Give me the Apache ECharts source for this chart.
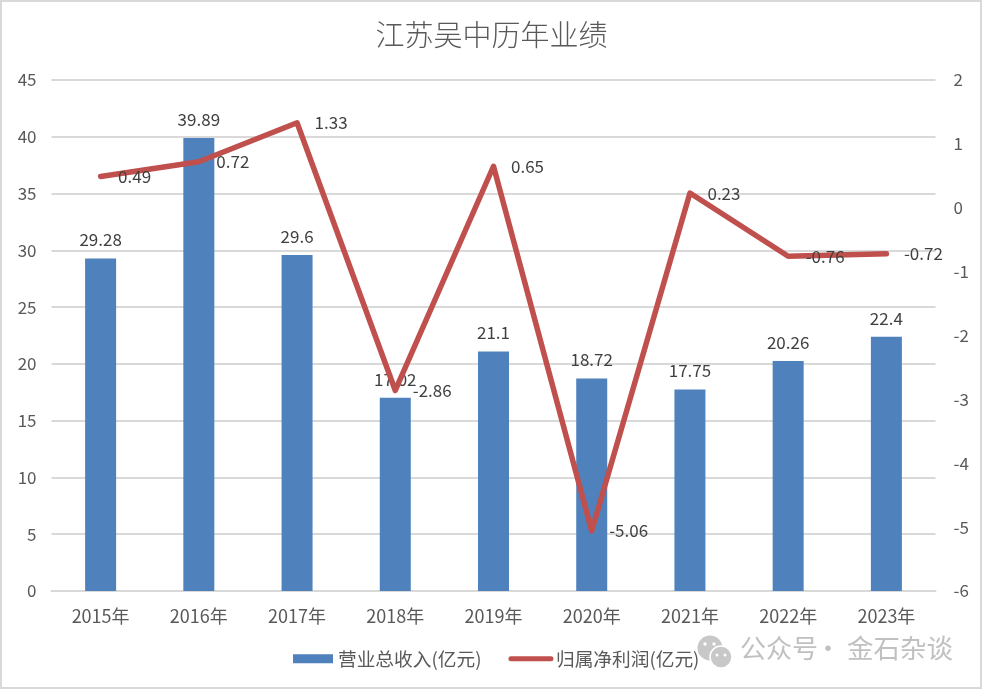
<!DOCTYPE html>
<html><head><meta charset="utf-8">
<style>html,body{margin:0;padding:0;background:#fff}#c{width:983px;height:690px}</style>
<script src="https://cdn.jsdelivr.net/npm/echarts@6/dist/echarts.min.js"></script></head>
<body><div id="c"></div>
<script>
const categories=['2015年','2016年','2017年','2018年','2019年','2020年','2021年','2022年','2023年'];
const revenue=[29.28,39.89,29.6,17.02,21.1,18.72,17.75,20.26,22.4];
const profit=[0.49,0.72,1.33,-2.86,0.65,-5.06,0.23,-0.76,-0.72];
const seriesNames=['营业总收入(亿元)','归属净利润(亿元)'];
const titleText='江苏吴中历年业绩';
const watermarkParts=['公众号','·','金石杂谈'];
const font='"Noto Sans CJK SC","Noto Sans",sans-serif';
const chart=echarts.init(document.getElementById('c'));
chart.setOption({
 animation:false,backgroundColor:'#fff',
 textStyle:{fontFamily:font},
 title:{text:titleText,left:'center',top:15,textStyle:{fontSize:29,fontWeight:300,color:'#595959',fontFamily:font}},
 grid:{left:51.5,right:47.5,top:80,bottom:99,containLabel:false},
 legend:{bottom:17,left:288,itemGap:27,itemWidth:40,itemHeight:9,textStyle:{fontSize:18.7,color:'#595959',fontFamily:font},
  data:[{name:seriesNames[0],icon:'rect'},
        {name:seriesNames[1],itemStyle:{color:'rgba(0,0,0,0)',borderWidth:0},lineStyle:{color:'#c0504d',width:5,cap:'round'}}]},
 xAxis:{type:'category',data:categories,axisTick:{show:false},axisLine:{lineStyle:{color:'#d9d9d9',width:2}},
  axisLabel:{fontSize:18,color:'#595959',margin:16,fontFamily:font}},
 yAxis:[
  {type:'value',min:0,max:45,interval:5,axisLine:{show:false},axisTick:{show:false},
   splitLine:{lineStyle:{color:'#d9d9d9',width:2}},axisLabel:{fontSize:17,color:'#595959',margin:15,fontFamily:font}},
  {type:'value',min:-6,max:2,interval:1,axisLine:{show:false},axisTick:{show:false},splitLine:{show:false},
   axisLabel:{fontSize:17,color:'#595959',margin:18,fontFamily:font}}
 ],
 series:[
  {name:seriesNames[0],type:'bar',data:revenue,barWidth:31,itemStyle:{color:'#4f81bd'},
   label:{show:true,position:'top',distance:10,fontSize:17,color:'#404040',fontFamily:font}},
  {name:seriesNames[1],type:'line',yAxisIndex:1,data:profit,symbol:'circle',symbolSize:1,showSymbol:true,showAllSymbol:true,
   lineStyle:{color:'#c0504d',width:5.5,cap:'round',join:'round'},itemStyle:{color:'#c0504d'},z:3,
   label:{show:true,position:'right',distance:17,fontSize:17,color:'#404040',fontFamily:font},
   labelLayout:{hideOverlap:false}}
 ],
 graphic:[
  {type:'rect',z:100,shape:{x:1,y:1,width:980,height:687},style:{fill:'none',stroke:'#d9d9d9',lineWidth:2},silent:true},
  {type:'circle',z:100,shape:{cx:710,cy:648,r:12.5},style:{fill:'#c8c8c8'}},
  {type:'circle',z:101,shape:{cx:721,cy:657,r:11},style:{fill:'#c8c8c8',stroke:'#fff',lineWidth:1.5}},
  {type:'circle',z:102,shape:{cx:705,cy:644,r:1.7},style:{fill:'#fff'}},
  {type:'circle',z:102,shape:{cx:714,cy:644,r:1.7},style:{fill:'#fff'}},
  {type:'circle',z:102,shape:{cx:717,cy:655,r:1.5},style:{fill:'#fff'}},
  {type:'circle',z:102,shape:{cx:725,cy:655,r:1.5},style:{fill:'#fff'}},
  {type:'text',z:100,left:740,top:635,style:{text:watermarkParts[0],font:'26px '+font,fill:'#c0c0c0'}},
  {type:'text',z:100,left:815,top:635,style:{text:watermarkParts[1],font:'26px '+font,fill:'#c0c0c0'}},
  {type:'text',z:100,left:847,top:635,style:{text:watermarkParts[2],font:'26.5px '+font,fill:'#c0c0c0'}}
 ]
});
</script></body></html>
